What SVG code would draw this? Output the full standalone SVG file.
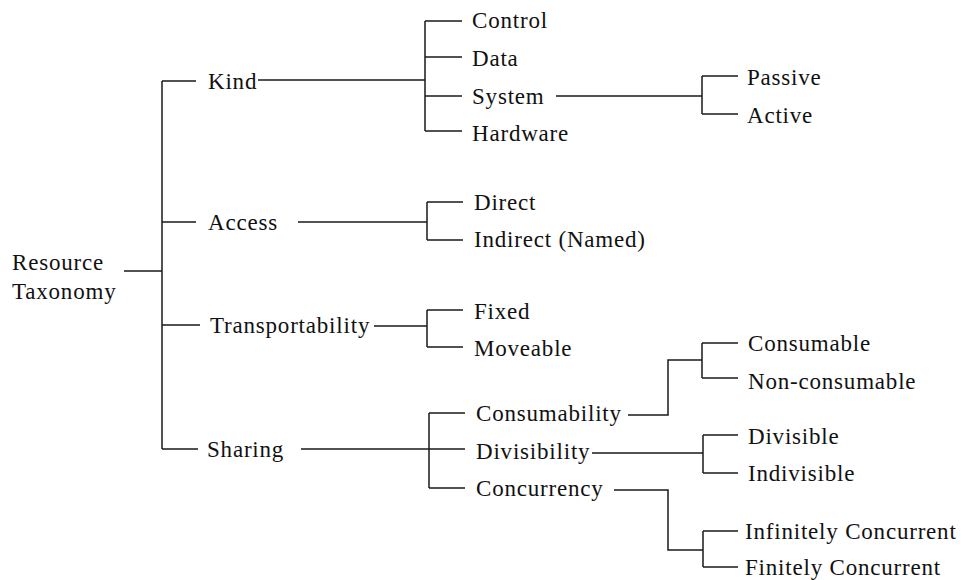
<svg xmlns="http://www.w3.org/2000/svg" width="971" height="580" viewBox="0 0 971 580">
  <style>
    .lbl { font-family: "Liberation Serif", "Times New Roman", serif; font-size: 23px; letter-spacing: 0.8px; fill: #111; }
    .wire { fill: none; stroke: #1a1a1a; stroke-width: 1.5; }
  </style>
  <rect width="971" height="580" fill="#ffffff"/>

  <!-- tree connectors -->
  <g id="connectors" class="wire">
    <!-- root trunk -->
    <path d="M124,271 H162 M162,81 V449 M162,81 H196 M162,222 H196 M162,325 H200 M162,449 H198"/>
    <!-- Kind -->
    <path d="M258,80 H425 M425,21 V131 M425,21 H462 M425,57 H462 M425,96 H462 M425,131 H462"/>
    <!-- System -->
    <path d="M556,96 H702 M702,76 V114 M702,76 H738 M702,114 H738"/>
    <!-- Access -->
    <path d="M298,222 H427 M427,202 V240 M427,202 H463 M427,240 H463"/>
    <!-- Transportability -->
    <path d="M374,326 H427 M427,310 V347 M427,310 H463 M427,347 H463"/>
    <!-- Sharing -->
    <path d="M301,449 H429 M429,413 V488 M429,413 H465 M429,449 H465 M429,488 H465"/>
    <!-- Consumability -->
    <path d="M628,415 H668 V360 H702 M702,343 V378 M702,343 H738 M702,378 H738"/>
    <!-- Divisibility -->
    <path d="M592,453 H703 M703,435 V473 M703,435 H738 M703,473 H738"/>
    <!-- Concurrency -->
    <path d="M614,490 H668 V550 H703 M703,531 V567 M703,531 H738 M703,567 H738"/>
  </g>

  <g id="root"><text class="lbl" x="12" y="270">Resource</text><text class="lbl" x="12" y="299">Taxonomy</text></g>

  <g id="kind"><text class="lbl" x="208" y="89">Kind</text></g>
  <g id="control"><text class="lbl" x="472" y="28">Control</text></g>
  <g id="data"><text class="lbl" x="472" y="66">Data</text></g>
  <g id="system"><text class="lbl" x="472" y="104">System</text></g>
  <g id="hardware"><text class="lbl" x="472" y="141">Hardware</text></g>
  <g id="passive"><text class="lbl" x="747" y="85">Passive</text></g>
  <g id="active"><text class="lbl" x="747" y="123">Active</text></g>

  <g id="access"><text class="lbl" x="208" y="230">Access</text></g>
  <g id="direct"><text class="lbl" x="474" y="210">Direct</text></g>
  <g id="indirect"><text class="lbl" x="474" y="247">Indirect (Named)</text></g>

  <g id="transportability"><text class="lbl" x="210" y="333">Transportability</text></g>
  <g id="fixed"><text class="lbl" x="474" y="319">Fixed</text></g>
  <g id="moveable"><text class="lbl" x="474" y="356">Moveable</text></g>

  <g id="sharing"><text class="lbl" x="207" y="457">Sharing</text></g>
  <g id="consumability"><text class="lbl" x="476" y="421">Consumability</text></g>
  <g id="divisibility"><text class="lbl" x="476" y="459">Divisibility</text></g>
  <g id="concurrency"><text class="lbl" x="476" y="496">Concurrency</text></g>
  <g id="consumable"><text class="lbl" x="748" y="351">Consumable</text></g>
  <g id="non-consumable"><text class="lbl" x="748" y="389">Non-consumable</text></g>
  <g id="divisible"><text class="lbl" x="748" y="444">Divisible</text></g>
  <g id="indivisible"><text class="lbl" x="748" y="481">Indivisible</text></g>
  <g id="infinitely-concurrent"><text class="lbl" x="745" y="539">Infinitely Concurrent</text></g>
  <g id="finitely-concurrent"><text class="lbl" x="745" y="575">Finitely Concurrent</text></g>
</svg>
